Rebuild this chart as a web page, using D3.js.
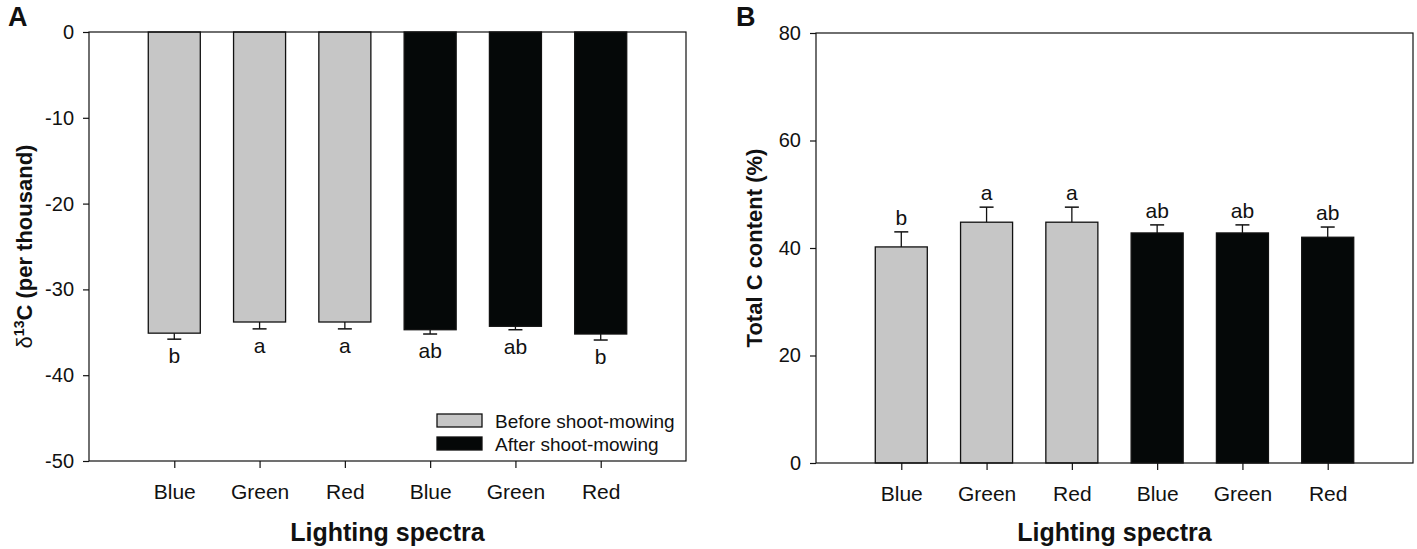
<!DOCTYPE html>
<html>
<head>
<meta charset="utf-8">
<script src="https://cdn.jsdelivr.net/npm/d3@7"></script>
<style>
  body { margin: 0; background: #fff; }
  svg text { font-family: "Liberation Sans", Arial, sans-serif; fill: #111; }
  .axis path, .axis line { stroke: #111; stroke-width: 1.2; }
  .axis text { font-size: 20px; }
  .xlab text { font-size: 21px; }
</style>
</head>
<body>
<svg id="fig" width="1417" height="549"></svg>
<script>
// categories and series
var spectra = ["Blue", "Green", "Red", "Blue", "Green", "Red"];
var treatment = ["Before shoot-mowing", "Before shoot-mowing", "Before shoot-mowing",
                 "After shoot-mowing", "After shoot-mowing", "After shoot-mowing"];

var d13C = [-35.1, -33.8, -33.8, -34.7, -34.3, -35.2];
var d13C_se = [0.7, 0.8, 0.8, 0.5, 0.4, 0.7];
var d13C_letters = ["b", "a", "a", "ab", "ab", "b"];

var totalC = [40.2, 44.8, 44.8, 42.8, 42.8, 42.0];
var totalC_se = [2.8, 2.8, 2.8, 1.5, 1.5, 1.9];
var totalC_letters = ["b", "a", "a", "ab", "ab", "ab"];

var yTicksA = [0, -10, -20, -30, -40, -50];
var yTicksB = [0, 20, 40, 60, 80];

var GREY = "#c6c6c6", BLACK = "#050808";

var svg = d3.select("#fig");

function colorFor(t) { return t === "Before shoot-mowing" ? GREY : BLACK; }

function drawPanel(opt) {
    var x = d3.scaleLinear().domain([0, 7]).range([opt.left, opt.right]);
    var y = d3.scaleLinear().domain(opt.ydomain).range([opt.bottom, opt.top]);
    var g = svg.append("g");
    var barW = 0.61 * (x(1) - x(0));
    var rows = opt.values.map(function(v, i) {
        return { pos: i + 1, v: v, se: opt.se[i], letter: opt.letters[i], t: treatment[i] };
    });

    // error bars (one-sided, away from zero)
    var sign = opt.ydomain[0] < 0 ? -1 : 1;
    var eb = g.selectAll(".eb").data(rows).enter().append("g");
    eb.append("line")
        .attr("x1", function(d) { return x(d.pos); })
        .attr("x2", function(d) { return x(d.pos); })
        .attr("y1", function(d) { return y(d.v); })
        .attr("y2", function(d) { return y(d.v + sign * d.se); })
        .attr("stroke", "#111").attr("stroke-width", 1.3);
    eb.append("line")
        .attr("x1", function(d) { return x(d.pos) - 7; })
        .attr("x2", function(d) { return x(d.pos) + 7; })
        .attr("y1", function(d) { return y(d.v + sign * d.se); })
        .attr("y2", function(d) { return y(d.v + sign * d.se); })
        .attr("stroke", "#111").attr("stroke-width", 1.5);

    g.selectAll(".bar").data(rows).enter().append("rect")
        .attr("x", function(d) { return x(d.pos) - barW / 2; })
        .attr("width", barW)
        .attr("y", function(d) { return Math.min(y(0), y(d.v)); })
        .attr("height", function(d) { return Math.abs(y(d.v) - y(0)); })
        .attr("fill", function(d) { return colorFor(d.t); })
        .attr("stroke", "#111").attr("stroke-width", 1.3);

    // significance letters
    g.selectAll(".letter").data(rows).enter().append("text")
        .attr("x", function(d) { return x(d.pos); })
        .attr("y", function(d) {
            var end = y(d.v + sign * d.se);
            return sign < 0 ? end + 24 : end - 7;
        })
        .attr("text-anchor", "middle")
        .style("font-size", "21px")
        .text(function(d) { return d.letter; });

    // frame
    g.append("rect")
        .attr("x", opt.left).attr("y", opt.top)
        .attr("width", opt.right - opt.left).attr("height", opt.bottom - opt.top)
        .attr("fill", "none").attr("stroke", "#111").attr("stroke-width", 1.2);

    g.append("g").attr("class", "axis")
        .attr("transform", "translate(" + opt.left + ",0)")
        .call(d3.axisLeft(y).tickValues(opt.yticks).tickSize(6).tickSizeOuter(0).tickPadding(9)
            .tickFormat(function(d) { return String(d); }))
        .select(".domain").remove();

    g.append("g").attr("class", "axis xlab")
        .attr("transform", "translate(0," + opt.bottom + ")")
        .call(d3.axisBottom(x).tickValues([1, 2, 3, 4, 5, 6]).tickSize(7).tickSizeOuter(0).tickPadding(16)
            .tickFormat(function(d) { return spectra[d - 1]; }))
        .select(".domain").remove();

    g.append("text")
        .attr("x", (opt.left + opt.right) / 2)
        .attr("y", 541)
        .attr("text-anchor", "middle")
        .style("font-size", "25px").style("font-weight", "bold")
        .text("Lighting spectra");

    var yt = g.append("text")
        .attr("transform", "translate(" + opt.titleX + "," + (opt.top + opt.bottom) / 2 + ") rotate(-90)")
        .attr("text-anchor", "middle")
        .style("font-size", "22px").style("font-weight", "bold");
    opt.title(yt);

    g.append("text")
        .attr("x", opt.letterX).attr("y", 26)
        .style("font-size", "27px").style("font-weight", "bold")
        .text(opt.panel);

    return { x: x, y: y, g: g };
}

var A = drawPanel({
    left: 89, right: 686, top: 32, bottom: 461,
    ydomain: [-50, 0], yticks: yTicksA,
    values: d13C, se: d13C_se, letters: d13C_letters,
    titleX: 32, letterX: 8, panel: "A",
    title: function(t) {
        t.append("tspan").style("font-weight", "normal").text("\u03b4");
        t.append("tspan").attr("dy", -8).style("font-size", "14px").text("13");
        t.append("tspan").attr("dy", 8).text("C (per thousand)");
    }
});

var B = drawPanel({
    left: 816, right: 1413, top: 33, bottom: 463,
    ydomain: [0, 80], yticks: yTicksB,
    values: totalC, se: totalC_se, letters: totalC_letters,
    titleX: 762, letterX: 736, panel: "B",
    title: function(t) { t.text("Total C content (%)"); }
});

// legend in panel A
var legendItems = ["Before shoot-mowing", "After shoot-mowing"];
var lg = A.g.append("g").attr("transform", "translate(437,414)");
lg.selectAll("rect").data(legendItems).enter().append("rect")
    .attr("x", 0).attr("y", function(d, i) { return i * 23; })
    .attr("width", 45).attr("height", 13)
    .attr("fill", colorFor).attr("stroke", "#111").attr("stroke-width", 1.3);
lg.selectAll("text").data(legendItems).enter().append("text")
    .attr("x", 58).attr("y", function(d, i) { return i * 23 + 14; })
    .style("font-size", "19px")
    .text(function(d) { return d; });
</script>
</body>
</html>
